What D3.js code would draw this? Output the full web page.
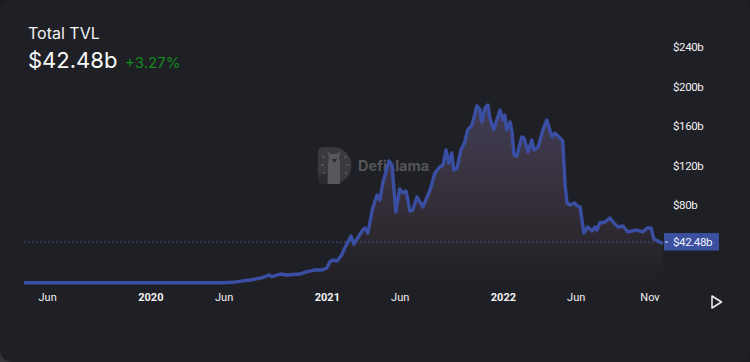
<!DOCTYPE html>
<html lang='en'>
<head>
<meta charset='utf-8'>
<title>Total TVL</title>
<script src="https://cdn.jsdelivr.net/npm/d3@7"></script>
<style>
	html, body { margin: 0; padding: 0; background: #1c1d21; }
	svg { display: block; font-family: Inter, 'Noto Sans', sans-serif; }
	.axis path, .axis line { display: none; }
	.axis text { fill: #f2f2f3; font-family: Roboto, sans-serif; }
</style>
</head>
<body>
<svg id='chart' width='750' height='362'></svg>
<script>
	var dates = ['2019-04-14','2019-10-01','2020-01-01','2020-06-01','2020-06-20','2020-07-25','2020-08-21','2020-09-03','2020-09-09','2020-09-26',
		'2020-10-10','2020-11-06','2020-11-21','2020-12-01','2020-12-07','2020-12-22','2021-01-01','2021-01-07','2021-01-13','2021-01-22',
		'2021-02-01','2021-02-05','2021-02-20','2021-02-26','2021-03-15','2021-03-21','2021-03-27','2021-04-06','2021-04-15','2021-04-21',
		'2021-04-27','2021-05-10','2021-05-16','2021-05-24','2021-06-01','2021-06-08','2021-06-14','2021-06-18','2021-06-22','2021-06-28',
		'2021-07-07','2021-07-19','2021-08-03','2021-08-13','2021-08-23','2021-08-30','2021-09-05','2021-09-11','2021-09-17','2021-09-21',
		'2021-09-28','2021-10-06','2021-10-14','2021-10-20','2021-10-29','2021-11-08','2021-11-14','2021-11-18','2021-11-25','2021-12-01',
		'2021-12-05','2021-12-13','2021-12-26','2022-01-01','2022-01-05','2022-01-09','2022-01-16','2022-01-20','2022-01-24','2022-01-30',
		'2022-02-09','2022-02-14','2022-02-22','2022-03-02','2022-03-06','2022-03-15','2022-03-25','2022-04-02','2022-04-13','2022-04-19',
		'2022-04-27','2022-05-05','2022-05-10','2022-05-14','2022-05-20','2022-05-30','2022-06-04','2022-06-10','2022-06-14','2022-06-18',
		'2022-06-26','2022-07-05','2022-07-11','2022-07-15','2022-07-21','2022-08-01','2022-08-11','2022-08-21','2022-08-28','2022-09-07',
		'2022-09-17','2022-10-06','2022-10-18','2022-10-27','2022-11-04','2022-11-10','2022-11-21','2022-11-25','2022-11-29'];
	var tvl = [1.2,1.2,1.2,1.3,1.7,4,6.4,9.1,7.4,10.1,
		9.1,10.1,12.5,13.5,14.2,14.2,16.2,22.3,24.3,23.3,
		29.4,34.4,48.6,40.5,53.7,56.7,51.6,77,90.1,85.1,
		102.3,124.6,120.5,72.9,96.2,92.2,94.2,85,73.9,74.9,
		88.1,78,95.2,112.4,118.5,120.5,135.7,122.5,132.7,115.4,
		117.5,135.7,143.8,156,161,180.3,177.2,164,178.2,181.3,
		168.1,156,176.2,166.1,171.1,156,164,153.9,130.6,129.6,
		148.9,147.8,133.7,145.8,135.7,138.7,156,166.1,148.9,152.9,
		148.9,144.8,100.3,82,80,82,79,78,64.8,51.6,
		57.7,53.7,57.7,54.7,61.8,62.8,66.8,60.8,57.7,58.7,
		52.7,54.7,52.7,56.7,56.7,45.6,43,41.5,42.48];
	var yTicks = [80, 120, 160, 200, 240];
	var xTicks = ['2019-06-01','2020-01-01','2020-06-01','2021-01-01','2021-06-01','2022-01-01','2022-06-01','2022-11-01'];
	var xTickLabels = ['Jun','2020','Jun','2021','Jun','2022','Jun','Nov'];
	var lastValue = 42.48;

	var parse = d3.timeParse('%Y-%m-%d');
	var data = dates.map(function(d, i){ return {date: parse(d), value: tvl[i]}; });

	var svg = d3.select('#chart');

	// card, the corner behind it shows a little lighter at bottom left
	svg.append('rect').attr('y', 350).attr('width', 12).attr('height', 12).attr('fill', '#34353a');
	svg.append('rect').attr('width', 750).attr('height', 362).attr('rx', 12).attr('fill', '#1f2025');

	// title block
	svg.append('text').attr('x', 28).attr('y', 39).attr('font-size', 16).attr('fill', '#f2f2f3').text('Total TVL');
	svg.append('text').attr('x', 28).attr('y', 68).attr('font-size', 22).attr('fill', '#fafafa').text('$' + lastValue + 'b');
	svg.append('text').attr('x', 125).attr('y', 68).attr('font-size', 15).attr('fill', '#158a1c').text('+3.27%');

	// watermark, sits behind the series
	var mark = svg.append('g');
	mark.append('path')
		.attr('d', 'M323,147 H333 A18.5,18.5 0 0 1 333,184 H323 A5,5 0 0 1 318,179 V152 A5,5 0 0 1 323,147 Z')
		.attr('fill', '#393a3f');
	mark.append('path')
		.attr('d', 'M318,175 L327,173 V184 H323 A5,5 0 0 1 318,179 Z')
		.attr('fill', '#2b2c31');
	mark.append('path')
		.attr('d', 'M328,184 V163 L329,157 L327,151 L331,154 H337 L341,151 L339,157 L340,163 V184 Z')
		.attr('fill', '#57585c');
	mark.append('path')
		.attr('d', 'M332,159 H337 L334.5,163 Z')
		.attr('fill', '#2b2c31');
	// rays round the llama
	mark.append('path')
		.attr('d', 'M322,156 L325,158 M321,165 H324 M323,174 L325,172 M347,156 L344,158 M349,165 H346 M347,174 L345,172')
		.attr('stroke', '#68696d').attr('stroke-width', 1).attr('fill', 'none');
	svg.append('text').attr('x', 358).attr('y', 171).attr('font-size', 14.5).attr('font-weight', 700)
		.attr('fill', '#535458').text('DefiLlama');

	var x = d3.scaleTime().domain([parse('2019-04-14'), parse('2022-11-29')]).range([24, 663]);
	var y = d3.scaleLinear().domain([0, 240]).range([284, 47]);

	var grad = svg.append('defs').append('linearGradient')
		.attr('id', 'fade').attr('gradientUnits', 'userSpaceOnUse')
		.attr('x1', 0).attr('x2', 0).attr('y1', y(181)).attr('y2', y(0));
	grad.append('stop').attr('offset', '0').attr('stop-color', '#423d56');
	grad.append('stop').attr('offset', '0.55').attr('stop-color', '#352e38');
	grad.append('stop').attr('offset', '1').attr('stop-color', '#201f24');

	var area = d3.area().x(function(d){ return x(d.date); }).y0(y(0)).y1(function(d){ return y(d.value); });
	var line = d3.line().x(function(d){ return x(d.date); }).y(function(d){ return y(d.value); });

	svg.append('path').datum(data).attr('d', area).attr('fill', 'url(#fade)');

	// last value guide
	svg.append('line')
		.attr('x1', x.range()[0]).attr('x2', 664)
		.attr('y1', y(lastValue)).attr('y2', y(lastValue))
		.attr('stroke', '#3c4c94').attr('stroke-width', 1).attr('stroke-dasharray', '2 2');

	svg.append('path').datum(data).attr('d', line)
		.attr('fill', 'none').attr('stroke', '#3a4fa3').attr('stroke-width', 3.4).attr('stroke-linejoin', 'round');

	// axes
	var axisX = d3.axisBottom(x)
		.tickValues(xTicks.map(parse))
		.tickSize(0).tickPadding(0)
		.tickFormat(function(d, i){ return xTickLabels[i]; });
	var gx = svg.append('g').attr('class', 'axis').attr('transform', 'translate(0, 293)').call(axisX);
	gx.selectAll('text').attr('font-size', 11)
		.attr('font-weight', function(d, i){ return /^\d/.test(xTickLabels[i]) ? 700 : 400; });

	var axisY = d3.axisRight(y)
		.tickValues(yTicks)
		.tickSize(0).tickPadding(0)
		.tickFormat(function(d){ return '$' + d + 'b'; });
	var gy = svg.append('g').attr('class', 'axis').attr('transform', 'translate(673, 0)').call(axisY);
	gy.selectAll('text').attr('font-size', 11.5).attr('letter-spacing', -0.4);

	// price tag
	svg.append('rect').attr('x', 664).attr('y', y(lastValue) - 9).attr('width', 55).attr('height', 17.5).attr('fill', '#3b51a0');
	svg.append('line').attr('x1', 665).attr('x2', 668).attr('y1', y(lastValue)).attr('y2', y(lastValue))
		.attr('stroke', '#dfe3f2').attr('stroke-width', 1);
	svg.append('text').attr('x', 673).attr('y', y(lastValue) + 4).attr('font-size', 11.5)
		.attr('font-family', 'Roboto, sans-serif').attr('letter-spacing', -0.4).attr('fill', '#f2f3fa').text('$' + lastValue + 'b');

	// play button
	svg.append('path').attr('d', 'M712,296 L721.5,302 L712,308 Z')
		.attr('fill', 'none').attr('stroke', '#f0f0f0').attr('stroke-width', 1.5).attr('stroke-linejoin', 'round');
</script>
</body>
</html>
